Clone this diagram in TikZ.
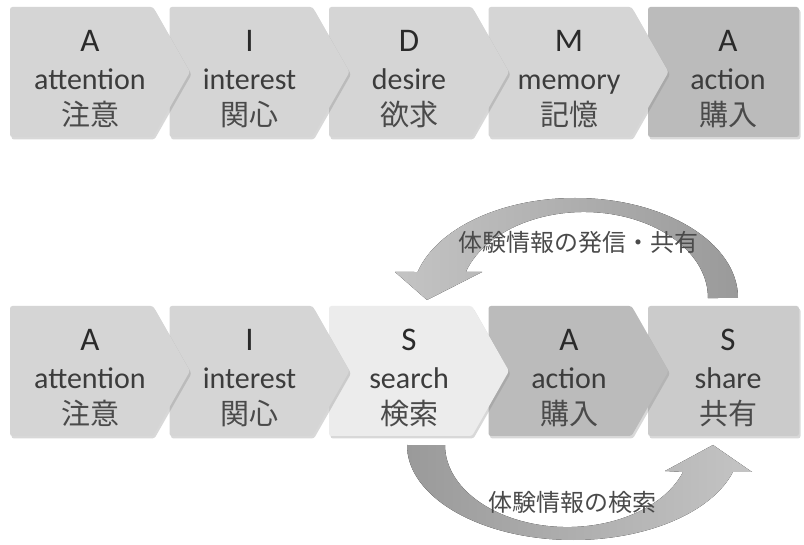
\documentclass[tikz,border=0pt]{standalone}
\usepackage{fontspec}
\setmainfont{Carlito}
\newfontfamily\jpfont{Noto Sans CJK JP}
\usetikzlibrary{shadows}
\definecolor{bxlight}{HTML}{D5D5D5}
\definecolor{bxmid}{HTML}{CBCBCB}
\definecolor{bxdark}{HTML}{BBBBBB}
\definecolor{bxpale}{HTML}{ECECEC}
\definecolor{txtdark}{HTML}{2A2A2A}
\definecolor{txtmid}{HTML}{3C3C3C}
\definecolor{txtjp}{HTML}{4A4A4A}
\definecolor{arrlight}{HTML}{C4C4C4}
\definecolor{arrdark}{HTML}{9A9A9A}
\newcommand\myhomeplate[3]{%
  \fill[boxshape, fill=#3] (#1,#2) -- ++(143,0) -- ++(37,65) -- ++(-37,65) -- ++(-143,0) -- cycle;}
\newcommand\myendbox[2]{%
  \fill[boxshape, fill=#2] (648,#1) rectangle (799,#1+130);}
\newcommand\mystagetext[6]{%
  \node[lettertxt] (#1l) at (#2,#3+45) {#4};
  \node[wordtxt] (#1w) at (#2,#3+83) {#5};
  \node[jptxt] (#1j) at (#2,#3+119) {#6};}
\begin{document}
\begin{tikzpicture}[x=1pt,y=-1pt,
  boxshape/.style={rounded corners=2.5pt, drop shadow={shadow xshift=1.5pt, shadow yshift=-2.5pt, opacity=0.3}},
  lettertxt/.style={anchor=base, font=\fontsize{33}{38}\selectfont, text=txtdark, inner sep=0pt},
  wordtxt/.style={anchor=base, font=\fontsize{30}{36}\selectfont, text=txtmid, inner sep=0pt},
  jptxt/.style={anchor=base, font=\jpfont\fontsize{29}{34}\selectfont, text=txtjp, inner sep=0pt},
  arrowtxt/.style={font=\jpfont\fontsize{24}{28}\selectfont, text=txtjp, inner sep=0pt}]
\useasboundingbox[fill=white] (0,0) rectangle (804,545);
% ---- top row (AIDMA)
\myendbox{7}{bxdark}
\myhomeplate{488.5}{7}{bxlight}
\myhomeplate{329}{7}{bxlight}
\myhomeplate{169.5}{7}{bxlight}
\myhomeplate{10}{7}{bxlight}
\mystagetext{tA}{90}{7}{A}{attention}{注意}
\mystagetext{tI}{249.5}{7}{I}{interest}{関心}
\mystagetext{tD}{409}{7}{D}{desire}{欲求}
\mystagetext{tM}{569}{7}{M}{memory}{記憶}
\mystagetext{tB}{728}{7}{A}{action}{購入}
% ---- bottom row (AISAS)
\myendbox{306}{bxmid}
\myhomeplate{488.5}{306}{bxdark}
\myhomeplate{329}{306}{bxpale}
\myhomeplate{169.5}{306}{bxlight}
\myhomeplate{10}{306}{bxlight}
\mystagetext{bA}{90}{306}{A}{attention}{注意}
\mystagetext{bI}{249.5}{306}{I}{interest}{関心}
\mystagetext{bS}{409}{306}{S}{search}{検索}
\mystagetext{bB}{569}{306}{A}{action}{購入}
\mystagetext{bT}{728}{306}{S}{share}{共有}
% ---- upper curved arrow (share -> back)
\fill[left color=arrlight, right color=arrdark]
  (738,298) arc[start angle=0, end angle=-164.93, x radius=163, y radius=100]
  -- (395,272) -- (427,300) -- (482,272) -- (465.8,272)
  arc[start angle=-162.4, end angle=0, x radius=124, y radius=86] -- cycle;
\node[arrowtxt] (up) at (578,242) {体験情報の発信・共有};
% ---- lower curved arrow (search -> share)
\fill[left color=arrdark, right color=arrlight]
  (407,445) arc[start angle=180, end angle=16.5, x radius=166.4, y radius=95]
  -- (752,472) -- (713,445) -- (665,471) -- (683,472)
  arc[start angle=19.2, end angle=180, x radius=122.4, y radius=82] -- cycle;
\node[arrowtxt] (low) at (572,502) {体験情報の検索};
\end{tikzpicture}
\end{document}
